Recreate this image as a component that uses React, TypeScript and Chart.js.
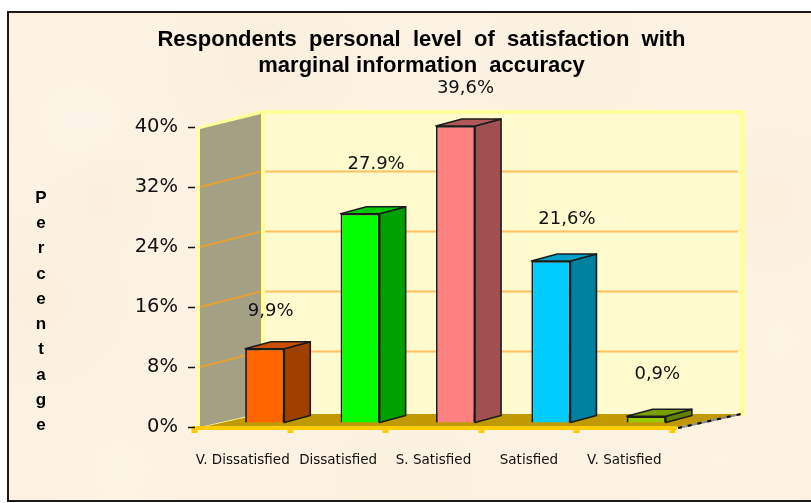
import React, { useEffect, useRef } from "react";
import { Chart, registerables } from "chart.js";

Chart.register(...registerables);

const categories = ["V. Dissatisfied", "Dissatisfied", "S. Satisfied", "Satisfied", "V. Satisfied"];
const percentages = [9.9, 27.9, 39.6, 21.6, 0.9];
const valueLabels = ["9,9%", "27.9%", "39,6%", "21,6%", "0,9%"];
const titleLines = ["Respondents  personal  level  of  satisfaction  with", "marginal information  accuracy"];
const axisTitle = "Percentage";

const frontColors = ["#FF6600", "#00FF00", "#FF8080", "#00CCFF", "#99CC00"];
const sideColors = ["#A04000", "#00A000", "#A05050", "#0080A0", "#608000"];
const topColors = ["#C85000", "#00C800", "#B05858", "#00A0C8", "#78A000"];
const labelNudgeX = [6, 16, 10, 16, 11];
const labelNudgeY = [-37, -49, -38, -42, -42];

const BAR_SHIFT_X = 22;
const BAR_SHIFT_Y = -4;
const BAR_DX = 26;
const BAR_DY = -7;

const poly = (ctx: CanvasRenderingContext2D, pts: number[][], fill: string) => {
  ctx.beginPath();
  pts.forEach((p, i) => (i ? ctx.lineTo(p[0], p[1]) : ctx.moveTo(p[0], p[1])));
  ctx.closePath();
  ctx.fillStyle = fill;
  ctx.fill();
};

const blotches = [
  [80, 120, 90, "rgba(255,250,240,0.5)"], [260, 60, 120, "rgba(245,232,205,0.35)"],
  [40, 300, 110, "rgba(247,234,208,0.4)"], [120, 470, 90, "rgba(255,248,235,0.5)"],
  [560, 60, 110, "rgba(250,236,212,0.35)"], [770, 200, 90, "rgba(248,234,208,0.4)"],
  [720, 460, 120, "rgba(254,246,230,0.5)"], [400, 480, 100, "rgba(249,238,215,0.4)"],
  [100, 200, 70, "rgba(246,234,210,0.35)"], [780, 340, 70, "rgba(255,248,235,0.4)"],
];

const scenery = {
  id: "scenery",
  afterLayout(chart: any) {
    // the heading is centred a little left of the plot, on a span wide enough for its first line
    chart.titleBlock.left = 111;
    chart.titleBlock.right = 732;
  },
  beforeDraw(chart: any) {
    const { ctx, width, height, chartArea } = chart;
    const { left: L, right: R, top: T, bottom: B } = chartArea;
    const y = chart.scales.y;
    ctx.save();
    ctx.fillStyle = "#FFFFFF";
    ctx.fillRect(0, 0, width, height);
    ctx.beginPath();
    ctx.rect(8, 12, width - 8, 489);
    ctx.clip();
    ctx.fillStyle = "#FBF2E1";
    ctx.fillRect(0, 0, width, height);
    blotches.forEach(([cx, cy, r, col]: any) => {
      const g = ctx.createRadialGradient(cx, cy, 0, cx, cy, r);
      g.addColorStop(0, col);
      g.addColorStop(1, "rgba(251,242,225,0)");
      ctx.fillStyle = g;
      ctx.fillRect(cx - r, cy - r, r * 2, r * 2);
    });
    ctx.restore();
    // frame
    ctx.fillStyle = "#1a1a1a";
    ctx.fillRect(7, 11, width - 7, 2);
    ctx.fillRect(7, 11, 2, 491);
    ctx.fillRect(7, 500, width - 7, 2);

    // back wall
    ctx.fillStyle = "#FFFF99";
    ctx.fillRect(L + 66, T - 17, 484, 306);
    ctx.fillStyle = "#FFFBCE";
    ctx.fillRect(L + 70, T - 13, 475, 300);
    // side wall
    poly(ctx, [[L + 2, T], [L + 66, T - 17], [L + 66, B - 11], [L + 2, B + 4]], "#FFFF99");
    poly(ctx, [[L + 5, T + 2], [L + 66, T - 13], [L + 66, B - 14], [L + 5, B]], "#A3A084");
    // grid lines
    y.ticks.forEach((t: any) => {
      if (t.value === y.min || t.value === y.max) return;
      const py = y.getPixelForValue(t.value);
      ctx.lineWidth = 2;
      ctx.strokeStyle = "#FFC060";
      ctx.beginPath();
      ctx.moveTo(L + 70, py - 15.5);
      ctx.lineTo(L + 543, py - 15.5);
      ctx.stroke();
      ctx.strokeStyle = "#E8A030";
      ctx.beginPath();
      ctx.moveTo(L + 5, py);
      ctx.lineTo(L + 66, py - 15.5);
      ctx.stroke();
    });
    // floor
    poly(ctx, [[L + 8, B], [L + 66, B - 13], [L + 546, B - 13], [R + 5, B]], "#C09A00");
    ctx.fillStyle = "#FFCC00";
    ctx.fillRect(L - 3, B - 1, R - L + 8, 4);
    // dashed front-right floor edge
    ctx.strokeStyle = "#888888";
    ctx.lineWidth = 2.2;
    ctx.beginPath();
    ctx.moveTo(R + 6, B + 1);
    ctx.lineTo(L + 546, B - 13);
    ctx.stroke();
    ctx.strokeStyle = "#111111";
    ctx.setLineDash([4, 6]);
    ctx.beginPath();
    ctx.moveTo(R + 6, B + 1);
    ctx.lineTo(L + 546, B - 13);
    ctx.stroke();
    ctx.setLineDash([]);
    // vertical axis title
    ctx.fillStyle = "#000000";
    ctx.font = "bold 17px 'Liberation Sans'";
    ctx.textAlign = "center";
    ctx.textBaseline = "middle";
    axisTitle.split("").forEach((ch, i) => ctx.fillText(ch, 41, 198 + i * 25.3));
  },
  beforeDatasetDraw(chart: any) {
    chart.ctx.save();
    chart.ctx.translate(BAR_SHIFT_X, BAR_SHIFT_Y);
    chart.ctx.lineJoin = "round";
  },
  afterDatasetDraw(chart: any, args: any) {
    const ctx = chart.ctx;
    const meta = chart.getDatasetMeta(args.index);
    meta.data.forEach((bar: any, i: number) => {
      const { x, y, base, width } = bar.getProps(["x", "y", "base", "width"], true);
      const l = x - width / 2;
      const r = x + width / 2;
      const side = [[r, y], [r + BAR_DX, y + BAR_DY], [r + BAR_DX, base + BAR_DY], [r, base]];
      const top = [[l, y], [l + BAR_DX, y + BAR_DY], [r + BAR_DX, y + BAR_DY], [r, y]];
      [[side, sideColors[i]], [top, topColors[i]]].forEach(([pts, col]: any) => {
        poly(ctx, pts, col);
        ctx.strokeStyle = "#1c1c1c";
        ctx.lineWidth = 1.6;
        ctx.stroke();
      });
    });
    ctx.restore();
    // value labels
    ctx.save();
    ctx.fillStyle = "#111111";
    ctx.font = "18px 'DejaVu Sans'";
    ctx.textAlign = "center";
    ctx.textBaseline = "middle";
    meta.data.forEach((bar: any, i: number) => {
      const { x, y } = bar.getProps(["x", "y"], true);
      ctx.fillText(valueLabels[i], x + BAR_SHIFT_X + labelNudgeX[i], y + BAR_SHIFT_Y + labelNudgeY[i]);
    });
    ctx.restore();
  },
};

export default function App() {
  const ref = useRef<HTMLCanvasElement | null>(null);
  useEffect(() => {
    const chart = new Chart(ref.current as HTMLCanvasElement, {
      type: "bar",
      data: {
        labels: categories,
        datasets: [
          {
            label: "Percentage",
            data: percentages,
            backgroundColor: frontColors,
            borderColor: "#1c1c1c",
            borderWidth: 1.8,
            barPercentage: 0.41,
            categoryPercentage: 1,
            clip: false,
          } as any,
        ],
      },
      options: {
        responsive: false,
        animation: false,
        layout: { padding: { left: 95, right: 139, top: 27, bottom: 36 } },
        plugins: {
          legend: { display: false },
          tooltip: { enabled: false },
          title: {
            display: true,
            text: titleLines,
            color: "#000000",
            font: { family: "'Liberation Sans'", size: 22, weight: "bold", lineHeight: 26 / 22 },
            padding: { top: 0, bottom: 48 },
          },
        },
        scales: {
          x: {
            grid: { drawOnChartArea: false, tickColor: "#FFCC00", tickWidth: 6, tickLength: 6, offset: true },
            border: { display: false },
            afterFit: (s: any) => { s.height = 40; },
            ticks: { color: "#111111", font: { family: "'DejaVu Sans'", size: 13.5 }, padding: 19, maxRotation: 0, autoSkip: false },
          },
          y: {
            min: 0,
            max: 40,
            afterFit: (s: any) => { s.width = 100; },
            grid: { drawOnChartArea: false, tickColor: "#111111", tickWidth: 1.5, tickLength: 7 },
            border: { display: false },
            ticks: { stepSize: 8, color: "#111111", font: { family: "'DejaVu Sans'", size: 19.5 }, padding: 10, callback: (v: any) => `${v}%` },
          },
        },
      },
      plugins: [scenery],
    } as any);
    return () => chart.destroy();
  }, []);
  return (
    <canvas ref={ref} width={811} height={503} style={{ position: "absolute", left: 0, top: 0, display: "block" }} />
  );
}
